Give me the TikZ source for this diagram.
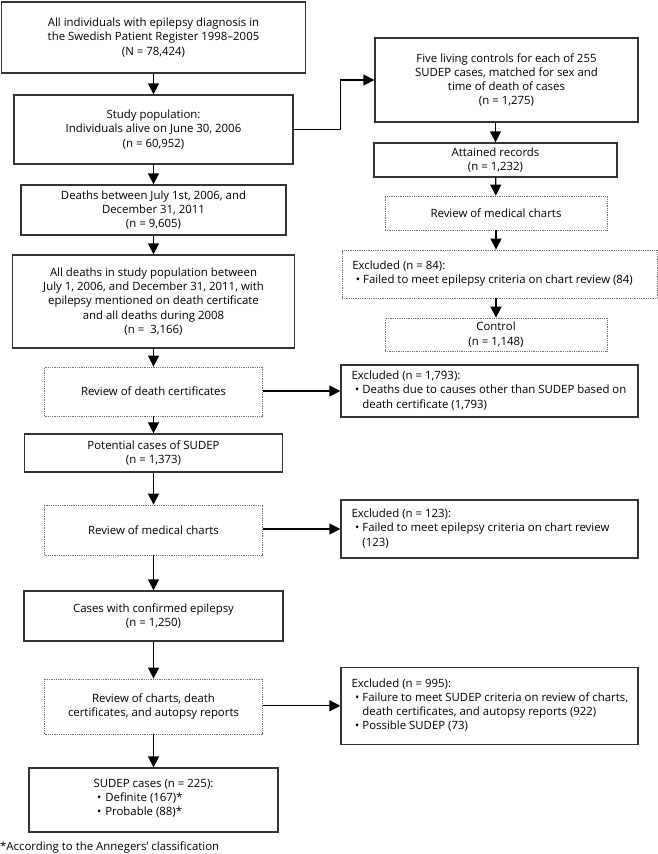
\documentclass[tikz,border=0pt]{standalone}
\usepackage{fontspec}
\usepackage{array}
\setmainfont{Open Sans}
\usetikzlibrary{arrows.meta}
\setlength{\parindent}{0pt}
% list of exclusions: #1 width of the bullet text, #2 header, #3 rows
\newcommand{\exlist}[3]{\begin{tabular}{@{\hspace{6.5pt}}p{0.95em}@{}>{\raggedright\arraybackslash}p{#1}@{}}
  \multicolumn{2}{@{\hspace{6.5pt}}l@{}}{#2}\\ #3\end{tabular}}
\newcommand{\bul}{\hspace*{0.3em}•}
\newcommand{\bline}[1]{\hspace*{0.3em}•\hspace{0.35em}#1}
\begin{document}
\begin{tikzpicture}[x=1pt, y=-1pt,
  every node/.style={font=\fontsize{11.4}{14.2}\selectfont, inner sep=0pt},
  box/.style={draw=black!80, line width=1.3pt, align=center},
  revbox/.style={draw=black!55, densely dotted, line width=0.8pt, align=center},
  arr/.style={-{Triangle[length=11pt,width=11pt]}, line width=1.3pt}]

\useasboundingbox (0,0) rectangle (658,854);

% left column: cases
\node[box, minimum width=304, minimum height=71] (pop) at (153.5,37.5)
  {All individuals with epilepsy diagnosis in\\the Swedish Patient Register 1998–2005\\(N = 78,424)};
\node[box, minimum width=279, minimum height=69] (study) at (153.5,129.5)
  {Study population:\\Individuals alive on June 30, 2006\\(n = 60,952)};
\node[box, minimum width=265, minimum height=50] (deaths) at (153.5,210)
  {Deaths between July 1st, 2006, and\\December 31, 2011\\(n = 9,605)};
\node[box, minimum width=282, minimum height=93] (alldeaths) at (153.5,301.5)
  {All deaths in study population between\\July 1, 2006, and December 31, 2011, with\\epilepsy mentioned on death certificate\\and all deaths during 2008\\(n = \ 3,166)};
\node[revbox, minimum width=218, minimum height=49] (revcert) at (153.5,391.5)
  {Review of death certificates};
\node[box, minimum width=258, minimum height=38] (potential) at (153.5,453)
  {Potential cases of SUDEP\\(n = 1,373)};
\node[revbox, minimum width=218, minimum height=50] (revmed) at (153.5,530)
  {Review of medical charts};
\node[box, minimum width=259, minimum height=50] (confirmed) at (153.5,616)
  {Cases with confirmed epilepsy\\(n = 1,250)};
\node[revbox, minimum width=218, minimum height=55] (revall) at (153.5,706.5)
  {Review of charts, death\\certificates, and autopsy reports};
\node[box, minimum width=249, minimum height=64] (sudep) at (153.5,800)
  {\begin{tabular}{@{}l@{}}SUDEP cases (n = 225):\\ \bline{Definite (167)*}\\ \bline{Probable (88)*}\\[3pt]\end{tabular}};
\node[anchor=west] (note) at (0,847) {*According to the Annegers’ classification};

% right column: controls
\node[box, minimum width=263, minimum height=84] (controls) at (506.5,80)
  {Five living controls for each of 255\\SUDEP cases, matched for sex and\\time of death of cases\\(n = 1,275)};
\node[box, minimum width=243, minimum height=34] (attained) at (495.5,160)
  {Attained records\\(n = 1,232)};
\node[revbox, minimum width=222, minimum height=34] (revctrl) at (496,213)
  {Review of medical charts};
\node[revbox, minimum width=315, minimum height=48] (exclctrl) at (499.5,274)
  {\exlist{290pt}{Excluded (n = 84):}{\bul & Failed to meet epilepsy criteria on chart review (84)}};
\node[revbox, minimum width=222, minimum height=33] (control) at (496,334.5)
  {Control\\(n = 1,148)};

% exclusions
\node[box, minimum width=297, minimum height=52] (excl1) at (489.5,391)
  {\exlist{271.5pt}{Excluded (n = 1,793):}{\bul & Deaths due to causes other than SUDEP based on death certificate (1,793)}};
\node[box, minimum width=297, minimum height=58] (excl2) at (489.5,529)
  {\exlist{271.5pt}{Excluded (n = 123):}{\bul & Failed to meet epilepsy criteria on chart review (123)}};
\node[box, minimum width=297, minimum height=77] (excl3) at (489.5,705.8)
  {\exlist{271.5pt}{Excluded (n = 995):}{\bul & Failure to meet SUDEP criteria on review of charts, death certificates, and autopsy reports (922)\\
   \bul & Possible SUDEP (73)}};

% connectors
\draw[arr] (pop) -- (study);
\draw[arr] (study) -- (deaths);
\draw[arr] (deaths) -- (alldeaths);
\draw[arr] (alldeaths) -- (revcert);
\draw[arr] (revcert) -- (potential);
\draw[arr] (potential) -- (revmed);
\draw[arr] (revmed) -- (confirmed);
\draw[arr] (confirmed) -- (revall);
\draw[arr] (revall) -- (sudep);

\draw[arr] (study.east) -| ([xshift=-34]controls.west) -- (controls.west);
\draw[arr] (attained.north |- controls.south) -- (attained.north);
\draw[arr] (attained) -- (revctrl);
\draw[arr] (revctrl.south) -- (revctrl.south |- exclctrl.north);
\draw[arr] (revctrl.south |- exclctrl.south) -- (control.north);

\draw[arr] (revcert.east |- excl1.west) -- (excl1.west);
\draw[arr] (revmed.east |- excl2.west) -- (excl2.west);
\draw[arr] (revall.east |- excl3.west) -- (excl3.west);
\end{tikzpicture}
\end{document}
